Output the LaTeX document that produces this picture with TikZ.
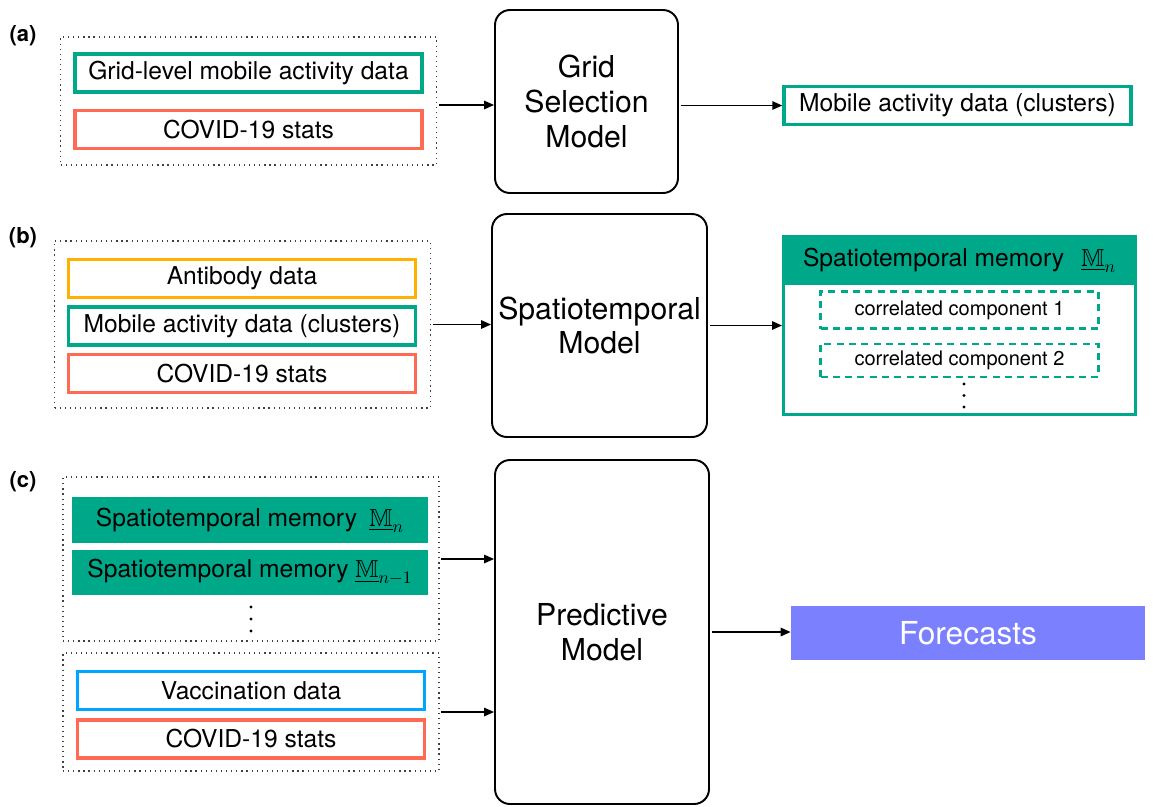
\documentclass[tikz,border=0pt]{standalone}
\usepackage{amsmath,amssymb}
\usepackage{fontspec}
\setmainfont{TeX Gyre Heros}
\usetikzlibrary{arrows.meta,positioning}
\definecolor{memteal}{HTML}{00A88A}
\definecolor{covidred}{HTML}{FF6A55}
\definecolor{antiorange}{HTML}{FFB000}
\definecolor{vaccblue}{HTML}{00A5FF}
\definecolor{forepurple}{HTML}{7B80FF}
\newcommand{\px}{0.02cm}
\newcommand{\datafont}{\fontsize{14}{16.5}\selectfont}
\newcommand{\modelfont}{\fontsize{17.2}{19.8}\selectfont}
\newcommand{\compfont}{\fontsize{11.4}{13}\selectfont}
\newcommand{\memM}[1]{$\underline{\mathbb{M}}_{#1}$}

\begin{document}
\begin{tikzpicture}[
  x=\px,y=-\px,
  tag/.style={font=\bfseries\fontsize{12.5}{14}\selectfont},
  group/.style={draw=black!75,line width=0.7pt,dash pattern=on 0.7pt off 2.2pt,minimum width=376*\px,inner sep=0pt},
  databox/.style={draw,line width=2pt,fill=white,minimum width=347*\px,minimum height=38*\px,inner sep=0pt,font=\datafont},
  memfill/.style={fill=memteal,minimum width=356*\px,inner sep=0pt,font=\datafont},
  model/.style={draw,line width=1.1pt,rounded corners=3mm,align=center,inner sep=0pt,font=\modelfont},
  compbox/.style={draw=memteal,line width=1.6pt,dash pattern=on 4pt off 3pt,minimum width=278*\px,inner sep=0pt,font=\compfont},
  arr/.style={-{Triangle[length=2mm,width=1.7mm]},line width=0.85pt,shorten <=1pt}
]
\useasboundingbox (0,0) rectangle (1153,806);

\node[tag] (taga) at (23,36) {(a)};
\node[group,minimum height=128*\px] (grpA) at (248.5,101) {};
\node[databox,draw=memteal] (gridA) at (248.5,73) {Grid-level mobile activity data};
\node[databox,draw=covidred,below=0.3cm of gridA] (covidA) {COVID-19 stats};
\node[model,minimum width=183*\px,minimum height=183*\px] (modelA) at (586.5,101.5) {Grid\\Selection\\Model};
\node[databox,draw=memteal] (clusterA) at (957.5,105.5) {Mobile activity data (clusters)};
\draw[arr] ([yshift=-4*\px]grpA.east) -- ([yshift=-4*\px]grpA.east -| modelA.west);
\draw[arr] (modelA.east |- clusterA) -- (clusterA.west);

\node[tag] (tagb) at (23,238) {(b)};
\node[group,minimum height=167*\px] (grpB) at (242.5,324.5) {};
\node[databox,draw=antiorange] (antiB) at (242,278.5) {Antibody data};
\node[databox,draw=memteal,below=0.12cm of antiB] (clusterB) {Mobile activity data (clusters)};
\node[databox,draw=covidred,below=0.12cm of clusterB] (covidB) {COVID-19 stats};
\node[model,minimum width=215*\px,minimum height=223*\px] (modelB) at (599.5,325.5) {Spatiotemporal\\Model};
\node[draw=memteal,line width=1.7pt,minimum width=352*\px,minimum height=178*\px,inner sep=0pt] (mem) at (959.5,325.5) {};
\node[memfill,minimum width=355*\px,minimum height=50*\px] (memhead) at (959.5,260) {Spatiotemporal memory\hspace{0.7em}\memM{n}};
\node[compbox,minimum height=37*\px] (comp1) at (959.5,310) {correlated component 1};
\node[compbox,minimum height=33*\px] (comp2) at (959.5,360.5) {correlated component 2};
\foreach \k in {0,1,2}
  \fill (964,384+11.5*\k) circle (1.7);
\draw[arr] (grpB.east) -- (grpB.east -| modelB.west);
\draw[arr] (modelB.east) -- (modelB.east -| mem.west);

\node[tag] (tagc) at (23,482) {(c)};
\node[group,minimum height=164*\px] (grpC) at (251,559) {};
\node[memfill,minimum height=46*\px] (memn) at (250,520) {Spatiotemporal memory\hspace{0.5em}\memM{n}};
\node[memfill,minimum height=45*\px,below=0.12cm of memn] (memprev) {Spatiotemporal memory \memM{n-1}};
\foreach \k in {0,1,2}
  \fill (251,607+12*\k) circle (1.7);
\node[group,minimum height=118*\px] (grpD) at (251,712) {};
\node[databox,draw=vaccblue] (vaccC) at (251,690.5) {Vaccination data};
\node[databox,draw=covidred,below=0.14cm of vaccC] (covidC) {COVID-19 stats};
\node[model,minimum width=214*\px,minimum height=344*\px] (modelC) at (602,632) {Predictive\\Model};
\node[fill=forepurple,text=white,minimum width=354*\px,minimum height=54*\px,inner sep=0pt,font=\fontsize{18}{21}\selectfont] (fore) at (968,633) {Forecasts};
\draw[arr] (grpC.east) -- (grpC.east -| modelC.west);
\draw[arr] (grpD.east) -- (grpD.east -| modelC.west);
\draw[arr] (modelC.east) -- (modelC.east -| fore.west);
\end{tikzpicture}
\end{document}
